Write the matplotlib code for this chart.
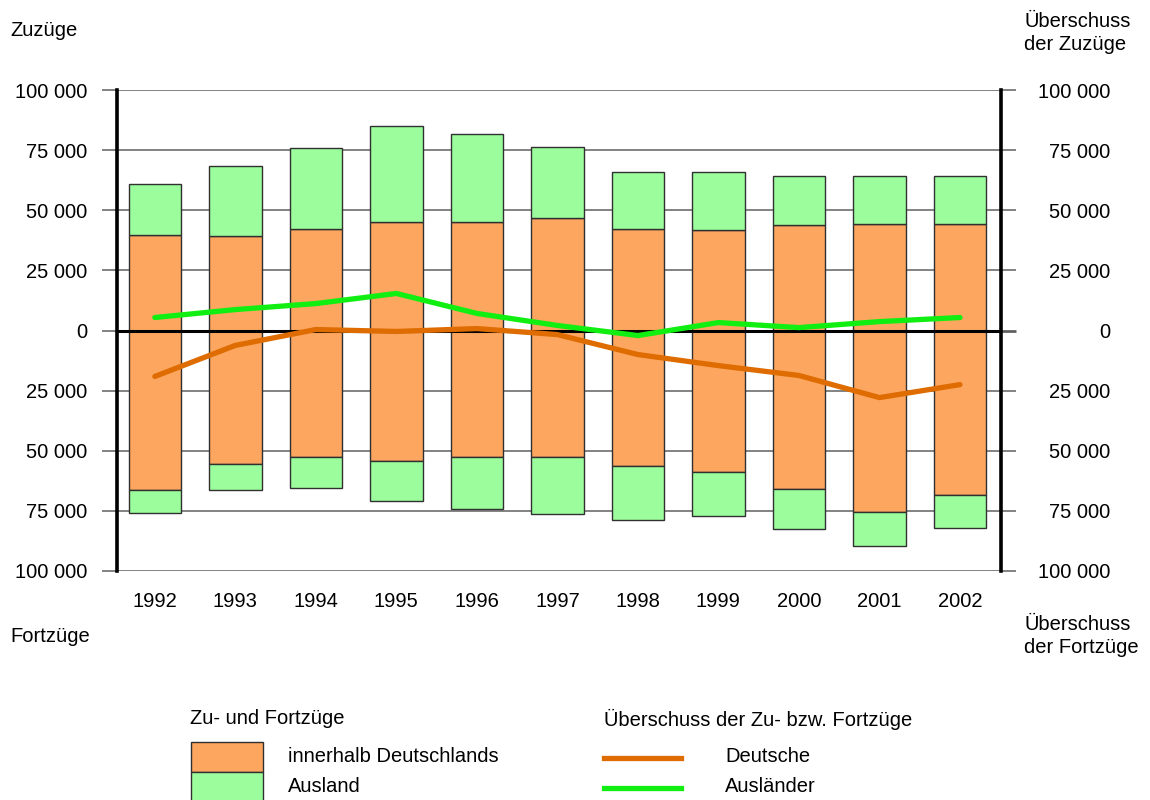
import numpy as np
import matplotlib
matplotlib.use('Agg')
import matplotlib.pyplot as plt
import matplotlib.transforms as mtransforms
from matplotlib.patches import Rectangle
from matplotlib.lines import Line2D
from matplotlib.ticker import FuncFormatter

plt.rcParams['font.family'] = ['Liberation Sans', 'DejaVu Sans']

years = ['1992', '1993', '1994', '1995', '1996', '1997', '1998', '1999', '2000', '2001', '2002']

# Zuzuege (positive), in persons
zu_inland = [39900, 39100, 42400, 45300, 45300, 46600, 42400, 41600, 43700, 44100, 44100]
zu_total = [61100, 68600, 75700, 85200, 81900, 76100, 66100, 65700, 64400, 64400, 64400]
# Fortzuege (shown downward)
fort_inland = [66500, 55700, 52800, 54100, 52400, 52400, 56500, 59000, 65700, 75300, 68600]
fort_total = [75700, 66500, 65300, 70700, 74400, 76500, 78600, 77300, 82700, 89400, 82300]

# Ueberschuss der Zu- bzw. Fortzuege
deutsche = [-19100, -6200, 400, -400, 800, -1700, -10000, -14600, -18700, -27900, -22500]
auslaender = [5400, 8700, 11200, 15400, 7100, 2100, -2100, 3300, 1200, 3700, 5400]

c_inland = '#FDA65F'
c_ausland = '#9BFD9B'
c_deutsche = '#DF6C00'
c_auslaender = '#11EE11'

zu_ausland = np.array(zu_total) - np.array(zu_inland)
fort_ausland = np.array(fort_total) - np.array(fort_inland)

fig = plt.figure(figsize=(11.5, 8), dpi=100)
ax = fig.add_axes([117 / 1150, 1 - 571 / 800, 884 / 1150, 481 / 800])

x = np.arange(len(years))
w = 0.65
ec = '#303030'
ax.bar(x, zu_inland, w, color=c_inland, edgecolor=ec, linewidth=1, zorder=2)
ax.bar(x, zu_ausland, w, bottom=zu_inland, color=c_ausland, edgecolor=ec, linewidth=1, zorder=2)
ax.bar(x, -np.array(fort_inland), w, color=c_inland, edgecolor=ec, linewidth=1, zorder=2)
ax.bar(x, -fort_ausland, w, bottom=-np.array(fort_inland), color=c_ausland, edgecolor=ec,
       linewidth=1, zorder=2)

ax.axhline(0, color='black', lw=2.2, zorder=3)
ax.plot(x, deutsche, color=c_deutsche, lw=3.8, solid_capstyle='round', zorder=4)
ax.plot(x, auslaender, color=c_auslaender, lw=3.8, solid_capstyle='round', zorder=4)

ax.set_xlim(-0.47, 10.51)
ax.set_ylim(-100000, 100000)
yt = np.arange(-100000, 100001, 25000)
ax.set_yticks(yt)
ax.yaxis.grid(True, color='#606060', lw=1.1, zorder=0)
ax.set_axisbelow(True)
fmt = FuncFormatter(lambda v, p: '{:,}'.format(int(abs(v))).replace(',', ' '))
ax.yaxis.set_major_formatter(fmt)
ax.set_xticks(x)
ax.set_xticklabels(years)

for s in ['top', 'bottom']:
    ax.spines[s].set_visible(False)
for s in ['left', 'right']:
    ax.spines[s].set_linewidth(2.6)
    ax.spines[s].set_color('black')
    ax.spines[s].set_zorder(5)

fs = 14.5
ax.tick_params(axis='x', length=0, pad=15, labelsize=fs)
ax.tick_params(axis='y', which='both', left=True, right=True, labelleft=True, labelright=True,
               direction='out', length=10.8, width=1.1, color='#606060', labelsize=fs, pad=10.5)
# right labels are right-aligned, ending near x=1110 px
off = mtransforms.ScaledTranslation(80 / 100, 0, fig.dpi_scale_trans)
for t in ax.yaxis.get_major_ticks():
    t.label2.set_horizontalalignment('right')
    t.label2.set_transform(t.label2.get_transform() + off)
zero_tick = list(yt).index(0)
ax.yaxis.get_major_ticks()[zero_tick].tick2line.set_color('black')
ax.yaxis.get_major_ticks()[zero_tick].tick2line.set_markeredgewidth(2)

# axis captions
fig.text(10 / 1150, 1 - 30 / 800, 'Zuzüge', fontsize=fs, va='center', ha='left')
fig.text(10 / 1150, 1 - 637 / 800, 'Fortzüge', fontsize=fs, va='center', ha='left')
fig.text(1024 / 1150, 1 - 33 / 800, 'Überschuss\nder Zuzüge', fontsize=fs, va='center', ha='left',
         linespacing=1.3)
fig.text(1024 / 1150, 1 - 636 / 800, 'Überschuss\nder Fortzüge', fontsize=fs, va='center', ha='left',
         linespacing=1.3)

# legend
def fx(px):
    return px / 1150


def fy(py):
    return 1 - py / 800


fig.text(fx(190), fy(719), 'Zu- und Fortzüge', fontsize=fs, va='center', ha='left')
fig.patches.append(Rectangle((fx(191), fy(772)), fx(72), 30 / 800, transform=fig.transFigure,
                             facecolor=c_inland, edgecolor='#303030', lw=1))
fig.patches.append(Rectangle((fx(191), fy(802)), fx(72), 30 / 800, transform=fig.transFigure,
                             facecolor=c_ausland, edgecolor='#303030', lw=1))
fig.text(fx(288), fy(757), 'innerhalb Deutschlands', fontsize=fs, va='center', ha='left')
fig.text(fx(288), fy(787), 'Ausland', fontsize=fs, va='center', ha='left')

fig.text(fx(604), fy(719), 'Überschuss der Zu- bzw. Fortzüge', fontsize=fs, va='center', ha='left')
fig.lines.append(Line2D([fx(604), fx(681)], [fy(758), fy(758)], transform=fig.transFigure,
                        color=c_deutsche, lw=3.8))
fig.lines.append(Line2D([fx(604), fx(681)], [fy(788), fy(788)], transform=fig.transFigure,
                        color=c_auslaender, lw=3.8))
fig.text(fx(725), fy(757), 'Deutsche', fontsize=fs, va='center', ha='left')
fig.text(fx(725), fy(786), 'Ausländer', fontsize=fs, va='center', ha='left')

fig.savefig('out.png', dpi=100)
